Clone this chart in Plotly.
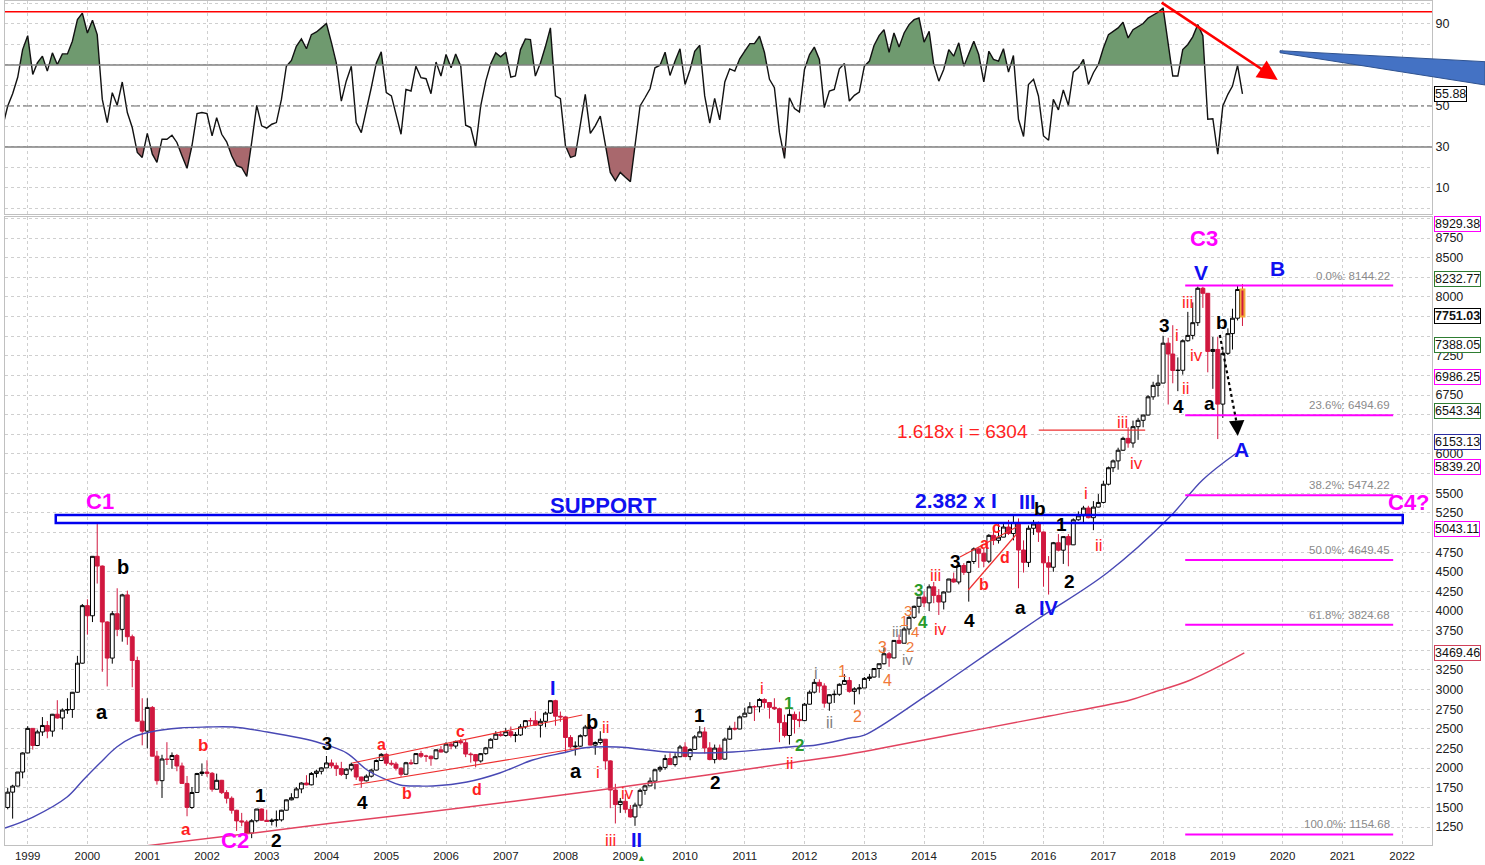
import pandas as pd
import plotly.graph_objects as go

# ---------------- data (NASDAQ Composite, monthly candles Sep 1998 .. May 2019) ----------------
candle_start = "1998-09-01"
opens = [
    1499, 1694, 1771, 1950,
    2193, 2506, 2288, 2461, 2543, 2471, 2686, 2638, 2739, 2746, 2966, 3336,
    4069, 3940, 4697, 4573, 3861, 3401, 3966, 3767, 4206, 3673, 3370, 2598,
    2471, 2773, 2152, 1840, 2116, 2110, 2161, 2027, 1805, 1499, 1690, 1931,
    1950, 1934, 1731, 1845, 1688, 1616, 1463, 1328, 1315, 1172, 1330, 1479,
    1336, 1321, 1338, 1341, 1464, 1596, 1623, 1735, 1810, 1787, 1932, 1960,
    2003, 2066, 2030, 1994, 1920, 1987, 2048, 1887, 1838, 1897, 1975, 2097,
    2175, 2062, 2052, 1999, 1922, 2068, 2057, 2185, 2152, 2152, 2120, 2233,
    2205, 2306, 2281, 2340, 2323, 2179, 2172, 2091, 2184, 2258, 2367, 2432,
    2415, 2464, 2416, 2422, 2525, 2605, 2603, 2546, 2596, 2701, 2859, 2661,
    2652, 2390, 2271, 2279, 2413, 2523, 2293, 2326, 2368, 2092, 1721, 1536,
    1577, 1476, 1378, 1529, 1717, 1774, 1835, 1979, 2009, 2122, 2045, 2145,
    2269, 2147, 2238, 2398, 2461, 2257, 2109, 2255, 2114, 2369, 2507, 2498,
    2653, 2700, 2782, 2781, 2874, 2835, 2774, 2756, 2579, 2415, 2684, 2620,
    2605, 2814, 2967, 3092, 3046, 2827, 2935, 2940, 3067, 3116, 2977, 3010,
    3020, 3142, 3160, 3268, 3329, 3456, 3403, 3626, 3590, 3771, 3920, 4060,
    4177, 4104, 4308, 4199, 4115, 4243, 4408, 4370, 4580, 4493, 4631, 4792,
    4736, 4635, 4964, 4901, 4941, 5070, 4987, 5128, 4777, 4620, 5054, 5109,
    5007, 4614, 4558, 4870, 4775, 4948, 4843, 5162, 5213, 5312, 5189, 5324,
    5383, 5615, 5825, 5912, 6048, 6199, 6140, 6348, 6429, 6496, 6728, 6874,
    6903, 7411, 7273, 7063, 7066, 7442, 7510, 7672, 8110, 8046, 7306, 7331,
    6635, 7282, 7533, 7729, 8095]
highs = [
    1745, 1788, 1950, 2200,
    2534, 2510, 2490, 2650, 2600, 2690, 2865, 2760, 2890, 2970, 3430, 4090,
    4150, 4700, 5132, 4580, 3870, 4000, 4290, 4220, 4260, 3700, 3420, 2890,
    2890, 2790, 2220, 2170, 2330, 2200, 2180, 2070, 1900, 1760, 1940, 2060,
    2100, 1950, 1930, 1850, 1720, 1640, 1470, 1430, 1340, 1350, 1480, 1485,
    1470, 1360, 1460, 1470, 1600, 1680, 1760, 1820, 1910, 1950, 1980, 2010,
    2154, 2110, 2070, 2080, 2000, 2070, 2050, 1890, 1920, 1990, 2110, 2190,
    2190, 2100, 2080, 2010, 2080, 2110, 2190, 2220, 2170, 2160, 2240, 2280,
    2330, 2320, 2350, 2375, 2370, 2200, 2180, 2190, 2270, 2380, 2470, 2470,
    2510, 2530, 2460, 2560, 2610, 2640, 2725, 2630, 2720, 2862, 2870, 2720,
    2660, 2420, 2340, 2430, 2550, 2550, 2340, 2470, 2370, 2100, 1800, 1620,
    1670, 1530, 1560, 1740, 1790, 1880, 1990, 2030, 2170, 2190, 2190, 2295,
    2330, 2250, 2420, 2535, 2520, 2330, 2300, 2300, 2390, 2540, 2590, 2670,
    2770, 2840, 2800, 2890, 2890, 2840, 2890, 2770, 2680, 2750, 2720, 2720,
    2830, 2990, 3135, 3130, 3080, 2940, 2990, 3080, 3197, 3160, 3030, 3070,
    3160, 3200, 3270, 3330, 3530, 3480, 3630, 3700, 3800, 3950, 4070, 4180,
    4250, 4340, 4370, 4280, 4250, 4410, 4490, 4580, 4610, 4640, 4810, 4814,
    4800, 4980, 5040, 5120, 5110, 5160, 5230, 5180, 4900, 5090, 5160, 5140,
    5010, 4700, 4880, 4980, 4950, 4980, 5180, 5270, 5340, 5340, 5400, 5490,
    5660, 5840, 5930, 6080, 6220, 6340, 6425, 6460, 6500, 6750, 6920, 7010,
    7505, 7480, 7640, 7230, 7460, 7810, 7930, 8133, 8130, 8050, 7490, 7490,
    7320, 7600, 7850, 8150, 8165]
lows = [
    1475, 1357, 1770, 1870,
    2190, 2236, 2280, 2410, 2380, 2400, 2630, 2490, 2690, 2640, 2960, 3330,
    3700, 3860, 4350, 3227, 3040, 3330, 3680, 3610, 3570, 3030, 2590, 2290,
    2250, 2150, 1790, 1620, 2040, 1990, 1960, 1800, 1387, 1480, 1690, 1900,
    1890, 1700, 1730, 1670, 1550, 1420, 1200, 1260, 1170, 1108, 1310, 1330,
    1320, 1270, 1253, 1320, 1460, 1590, 1620, 1680, 1780, 1780, 1880, 1920,
    2000, 2000, 1900, 1900, 1860, 1960, 1850, 1750, 1830, 1880, 1970, 2090,
    2030, 2030, 1970, 1890, 1920, 2040, 2050, 2130, 2080, 2030, 2110, 2200,
    2190, 2240, 2250, 2300, 2140, 2070, 2010, 2070, 2170, 2250, 2360, 2400,
    2400, 2390, 2330, 2410, 2500, 2540, 2540, 2390, 2520, 2690, 2540, 2590,
    2200, 2250, 2160, 2270, 2400, 2290, 2170, 2300, 1980, 1490, 1295, 1430,
    1430, 1370, 1265, 1490, 1660, 1770, 1730, 1950, 1980, 2040, 2020, 2140,
    2140, 2100, 2235, 2390, 2185, 2100, 2060, 2100, 2110, 2360, 2480, 2495,
    2650, 2690, 2600, 2710, 2760, 2630, 2740, 2330, 2390, 2300, 2440, 2520,
    2600, 2810, 2950, 2960, 2770, 2730, 2830, 2920, 3060, 2960, 2810, 2940,
    3020, 3110, 3150, 3150, 3320, 3290, 3400, 3580, 3590, 3700, 3900, 3970,
    4050, 4000, 4100, 3950, 4020, 4240, 4360, 4340, 4460, 4120, 4600, 4550,
    4560, 4610, 4840, 4860, 4940, 4970, 4900, 4290, 4490, 4560, 4970, 4880,
    4310, 4210, 4500, 4760, 4600, 4570, 4840, 5150, 5120, 5180, 5030, 5320,
    5370, 5600, 5770, 5800, 6040, 6080, 6080, 6180, 6340, 6490, 6690, 6730,
    6900, 6630, 6900, 6800, 7010, 7430, 7460, 7630, 7860, 7040, 6830, 6190,
    6460, 7260, 7330, 7700, 7630]
closes = [
    1694, 1771, 1950, 2193,
    2506, 2288, 2461, 2543, 2471, 2686, 2638, 2739, 2746, 2966, 3336, 4069,
    3940, 4697, 4573, 3861, 3401, 3966, 3767, 4206, 3673, 3370, 2598, 2471,
    2773, 2152, 1840, 2116, 2110, 2161, 2027, 1805, 1499, 1690, 1931, 1950,
    1934, 1731, 1845, 1688, 1616, 1463, 1328, 1315, 1172, 1330, 1479, 1336,
    1321, 1338, 1341, 1464, 1596, 1623, 1735, 1810, 1787, 1932, 1960, 2003,
    2066, 2030, 1994, 1920, 1987, 2048, 1887, 1838, 1897, 1975, 2097, 2175,
    2062, 2052, 1999, 1922, 2068, 2057, 2185, 2152, 2152, 2120, 2233, 2205,
    2306, 2281, 2340, 2323, 2179, 2172, 2091, 2184, 2258, 2367, 2432, 2415,
    2464, 2416, 2422, 2525, 2605, 2603, 2546, 2596, 2701, 2859, 2661, 2652,
    2390, 2271, 2279, 2413, 2523, 2293, 2326, 2368, 2092, 1721, 1536, 1577,
    1476, 1378, 1529, 1717, 1774, 1835, 1979, 2009, 2122, 2045, 2145, 2269,
    2147, 2238, 2398, 2461, 2257, 2109, 2255, 2114, 2369, 2507, 2498, 2653,
    2700, 2782, 2781, 2874, 2835, 2774, 2756, 2579, 2415, 2684, 2620, 2605,
    2814, 2967, 3092, 3046, 2827, 2935, 2940, 3067, 3116, 2977, 3010, 3020,
    3142, 3160, 3268, 3329, 3456, 3403, 3626, 3590, 3771, 3920, 4060, 4177,
    4104, 4308, 4199, 4115, 4243, 4408, 4370, 4580, 4493, 4631, 4792, 4736,
    4635, 4964, 4901, 4941, 5070, 4987, 5128, 4777, 4620, 5054, 5109, 5007,
    4614, 4558, 4870, 4775, 4948, 4843, 5162, 5213, 5312, 5189, 5324, 5383,
    5615, 5825, 5912, 6048, 6199, 6140, 6348, 6429, 6496, 6728, 6874, 6903,
    7411, 7273, 7063, 7066, 7442, 7510, 7672, 8110, 8046, 7306, 7331, 6635,
    7282, 7533, 7729, 8095, 7751.03]

# oscillator (top panel), monthly from Aug 1998
rsi_start = "1998-08-01"
rsi_vals = [
    40, 50, 56, 64, 77.5, 84.3, 65.4, 71, 74.3, 67, 75.9,
    70.2, 75.4, 75.4, 81.6, 92.1, 95.3, 85.6, 91.8, 84.8, 53.2,
    41.9, 56.5, 50.3, 61.7, 46.8, 39.5, 27.3, 24.9, 36.6, 26.5,
    22.5, 33.8, 33.8, 35.7, 32.2, 25.7, 19.6, 30.6, 46.3, 46.8,
    46.3, 35.4, 44.3, 36.2, 32.5, 25.7, 20.9, 20, 15.7, 32.2,
    50.3, 40.3, 39.2, 41.1, 41.9, 53.2, 69.4, 72.2, 79.1, 82.7,
    77.9, 84.8, 86.1, 88.1, 90.2, 80.8, 71.1, 52.4, 62.1, 69.4,
    41.9, 37, 47.6, 58.9, 71, 76.4, 56.5, 54.9, 46, 36.2,
    58.1, 57.3, 69.4, 63.8, 63.3, 56, 71.4, 64.6, 75.1, 68.6,
    75.4, 69.4, 40.6, 39.5, 29.8, 50, 62.1, 70.6, 75.9, 74,
    76.2, 64.1, 64.6, 77.5, 82.7, 82.4, 64.6, 71, 79.1, 88.1,
    54.9, 53.6, 30.6, 24.9, 25.7, 41.1, 55.7, 36.6, 40.3, 45.1,
    30.6, 17.6, 13.6, 17.6, 15.2, 13.1, 30.6, 50, 54, 58.4,
    68.6, 69.9, 76.2, 64.9, 71.9, 77.9, 60.5, 67.8, 76.7, 79.6,
    54.9, 41.6, 53.7, 43.2, 61.7, 68.1, 67, 73, 76.7, 80.4,
    80.4, 84, 76.2, 63, 58.9, 37, 24.4, 54, 48.7, 47.1,
    67.8, 75.1, 78.7, 72.7, 49.2, 57.3, 58.1, 68.1, 70.7, 52.4,
    55.2, 56.8, 69.4, 71.9, 79.5, 84.3, 87.2, 76.2, 85.6, 78.8,
    85.6, 89.7, 92.1, 92.9, 81.1, 86.4, 70.2, 62.1, 67.8, 77.5,
    74.3, 80.8, 69.4, 75.9, 81.6, 75.1, 61.7, 76.7, 72.7, 71.9,
    77.9, 66.5, 74.6, 43.5, 35.1, 60.5, 63, 54.9, 35.4, 33.3,
    53.2, 48.1, 57.8, 50.3, 66.5, 68.6, 72.7, 60.5, 66.2, 70.2,
    78.3, 84.8, 86.4, 88.1, 90.8, 83.2, 87.2, 88.9, 90.2, 92.9,
    94.5, 95.7, 97.8, 81.6, 64.6, 64.6, 77.5, 80, 83.7, 89.7,
    84.3, 43.5, 43.8, 26.5, 50, 55.7, 59.7, 69.8, 55.88]
rsi_levels = [96, 70, 50, 30]

# moving averages (fractional years)
ma_blue_years = [1998.62, 1999.09, 1999.66, 1999.93, 2000.21, 2000.49, 2000.76, 2001.05, 2001.55,
                 2002.0, 2002.44, 2003.01, 2003.56, 2003.89, 2004.34, 2004.68, 2005.01, 2005.23,
                 2005.56, 2005.78, 2006.35, 2006.90, 2007.45, 2008.02, 2008.29, 2008.86, 2009.70,
                 2010.23, 2010.80, 2011.75, 2012.20, 2012.76, 2013.0, 2014.0, 2014.42, 2015.88,
                 2017.06, 2018.11, 2018.66, 2019.23]
ma_blue_vals = [1237, 1377, 1632, 1849, 2065, 2269, 2396, 2460, 2511,
                2523, 2523, 2460, 2383, 2320, 2192, 1976, 1849, 1785,
                1772, 1772, 1823, 1938, 2103, 2205, 2256, 2269, 2205,
                2192, 2205, 2269, 2294, 2383, 2420, 2905, 3122, 3886,
                4484, 5197, 5669, 6013]
ma_red_years = [2000.70, 2002.77, 2004.11, 2005.56, 2008.58, 2010.37, 2011.75, 2012.76,
                2014.43, 2016.10, 2017.45, 2017.80, 2018.46, 2019.36]
ma_red_vals = [985, 1173, 1301, 1428, 1721, 1912, 2065, 2180,
               2422, 2664, 2867, 2956, 3122, 3466]

# Fibonacci retracement of 1154.68 -> 8144.22
fib_names = ["0.0%", "23.6%", "38.2%", "50.0%", "61.8%", "100.0%"]
fib_values = [8144.22, 6494.69, 5474.22, 4649.45, 3824.68, 1154.68]

support_low, support_high = 5121, 5223
target_value = 6304

# right-axis price flags
flag_values = [8929.38, 8232.77, 7751.03, 7388.05, 6986.25, 6543.34, 6153.13, 5839.20, 5043.11, 3469.46]
flag_colors = ["#ff00ff", "#2e7d32", "#000000", "#2e7d32", "#ff00ff", "#2e7d32", "#2a2aa0",
               "#ff00ff", "#ff00ff", "#d0405a"]

year_ticks = list(range(1999, 2023))
price_ticks = list(range(1250, 9001, 250))

# ---------------- helpers ----------------
def fy(v):
    y = int(v)
    s = pd.Timestamp(year=y, month=1, day=1)
    e = pd.Timestamp(year=y + 1, month=1, day=1)
    return (s + (e - s) * (v - y)).strftime("%Y-%m-%d %H:%M")


def clipped(dates, vals, level, above):
    xs, ys = [], []
    t = [d.value for d in dates]
    for i, v in enumerate(vals):
        if i > 0:
            v0 = vals[i - 1]
            if (v0 - level) * (v - level) < 0:
                f = (level - v0) / (v - v0)
                xs.append(pd.Timestamp(int(t[i - 1] + f * (t[i] - t[i - 1]))))
                ys.append(level)
        xs.append(dates[i])
        ys.append(max(v, level) if above else min(v, level))
    return xs, ys


FONT = "Liberation Sans, Arial, sans-serif"
CANDLE_RED = "#d0183f"
MAG, BLU, BLK = "#ff00ff", "#1010f0", "#000000"
RTX, GRN, ORG, GRY = "#ff1f1f", "#2a9a2a", "#f07838", "#808080"

candle_dates = pd.date_range(candle_start, periods=len(closes), freq="MS")
rsi_dates = pd.date_range(rsi_start, periods=len(rsi_vals), freq="MS")

fig = go.Figure()

# ---- oscillator panel ----
for lvl, above, col in [(70, True, "#6f9a6f"), (30, False, "#a9686d")]:
    xs, ys = clipped(list(rsi_dates), rsi_vals, lvl, above)
    fig.add_trace(go.Scatter(x=[xs[0], xs[-1]], y=[lvl, lvl], mode="lines", line=dict(width=0),
                             xaxis="x", yaxis="y", hoverinfo="skip", showlegend=False))
    fig.add_trace(go.Scatter(x=xs, y=ys, mode="lines", line=dict(width=0), fill="tonexty",
                             fillcolor=col, xaxis="x", yaxis="y", hoverinfo="skip", showlegend=False))
fig.add_trace(go.Scatter(x=rsi_dates, y=rsi_vals, mode="lines", line=dict(color="#111111", width=1.4),
                         xaxis="x", yaxis="y", hoverinfo="skip", showlegend=False))

# ---- price panel ----
fig.add_trace(go.Scatter(x=[fy(v) for v in ma_red_years], y=ma_red_vals, mode="lines",
                         line=dict(color="#e2435f", width=1.4, shape="spline"),
                         xaxis="x2", yaxis="y2", hoverinfo="skip", showlegend=False))
fig.add_trace(go.Scatter(x=[fy(v) for v in ma_blue_years], y=ma_blue_vals, mode="lines",
                         line=dict(color="#4848b4", width=1.4, shape="spline"),
                         xaxis="x2", yaxis="y2", hoverinfo="skip", showlegend=False))
fig.add_trace(go.Candlestick(
    x=candle_dates, open=opens, high=highs, low=lows, close=closes,
    xaxis="x2", yaxis="y2", whiskerwidth=0, hoverinfo="skip", showlegend=False,
    increasing=dict(line=dict(color="#000000", width=1), fillcolor="#ffffff"),
    decreasing=dict(line=dict(color=CANDLE_RED, width=1), fillcolor=CANDLE_RED)))

shapes = []
# oscillator level lines
shapes.append(dict(type="line", xref="paper", yref="y", x0=0, x1=1, y0=rsi_levels[0], y1=rsi_levels[0],
                   line=dict(color="#ff0000", width=1.5)))
for lv in (rsi_levels[1], rsi_levels[3]):
    shapes.append(dict(type="line", xref="paper", yref="y", x0=0, x1=1, y0=lv, y1=lv,
                       line=dict(color="#808080", width=1.5)))
shapes.append(dict(type="line", xref="paper", yref="y", x0=0, x1=1, y0=rsi_levels[2], y1=rsi_levels[2],
                   line=dict(color="#6a6a6a", width=1.2, dash="dashdot")))
# blue wedge callout (top right)
shapes.append(dict(type="path", xref="paper", yref="paper",
                   path="M 0.8935,0.9411 L 1.0371,0.9281 L 1.0371,0.9005 L 0.8935,0.9387 Z",
                   fillcolor="#4472c4", line=dict(color="#2f528f", width=1)))
# support zone
shapes.append(dict(type="rect", xref="x2", yref="y2", x0=fy(1999.47), x1=fy(2022.01),
                   y0=support_low, y1=support_high, line=dict(color="#0000ee", width=2.5)))
# fibonacci lines
for v in fib_values:
    shapes.append(dict(type="line", xref="x2", yref="y2", x0=fy(2018.37), x1=fy(2021.85), y0=v, y1=v,
                       line=dict(color="#ff00ff", width=2)))
# channel / wedge lines
for (xa, ya, xb, yb) in [(2004.43, 2065, 2008.28, 2676), (2004.45, 1785, 2008.24, 2256),
                         (2014.60, 4688, 2015.55, 5070), (2014.74, 4268, 2015.55, 4981)]:
    shapes.append(dict(type="line", xref="x2", yref="y2", x0=fy(xa), x1=fy(xb), y0=ya, y1=yb,
                       line=dict(color="#ee3030", width=1.2)))
# 1.618 x i target line
shapes.append(dict(type="line", xref="x2", yref="y2", x0=fy(2015.92), x1=fy(2017.70),
                   y0=target_value, y1=target_value, line=dict(color="#ee3030", width=1.2)))
# dotted projection arrow shaft
shapes.append(dict(type="line", xref="x2", yref="y2", x0=fy(2018.95), x1=fy(2019.235), y0=7515, y1=6380,
                   line=dict(color="#000000", width=2.2, dash="dot")))
# highlighted last candle
last = candle_dates[-1]
shapes.append(dict(type="rect", xref="x2", yref="y2", x0=last - pd.Timedelta(days=12),
                   x1=last + pd.Timedelta(days=12), y0=closes[-1], y1=opens[-1],
                   fillcolor=CANDLE_RED, line=dict(color="#f2a93b", width=2), layer="above"))

ann = []
labels = [
    ("C1", 2000.21, 5389, MAG, 22, True), ("b", 2000.60, 4561, BLK, 20, True),
    ("a", 2000.24, 2714, BLK, 20, True), ("b", 2001.93, 2294, RTX, 17, True),
    ("a", 2001.65, 1212, RTX, 17, True), ("1", 2002.90, 1657, BLK, 19, True),
    ("2", 2003.17, 1084, BLK, 19, True), ("3", 2004.01, 2307, BLK, 18, True),
    ("4", 2004.60, 1568, BLK, 19, True), ("a", 2004.92, 2307, RTX, 16, True),
    ("b", 2005.35, 1683, RTX, 16, True), ("c", 2006.25, 2472, RTX, 16, True),
    ("d", 2006.52, 1734, RTX, 16, True), ("I", 2007.79, 3020, BLU, 20, True),
    ("b", 2008.45, 2587, BLK, 20, True), ("ii", 2008.67, 2523, RTX, 17, False),
    ("a", 2008.18, 1963, BLK, 20, True), ("i", 2008.54, 1950, RTX, 17, False),
    ("iv", 2009.03, 1683, RTX, 17, False), ("iii", 2008.76, 1084, RTX, 17, False),
    ("II", 2009.18, 1084, BLU, 20, True), ("1", 2010.24, 2676, BLK, 19, True),
    ("2", 2010.51, 1823, BLK, 19, True), ("i", 2011.29, 3020, RTX, 17, False),
    ("1", 2011.74, 2829, GRN, 17, True), ("2", 2011.91, 2294, GRN, 17, True),
    ("ii", 2011.76, 2065, RTX, 17, False), ("i", 2012.19, 3211, GRY, 16, False),
    ("ii", 2012.41, 2587, GRY, 16, False), ("1", 2012.64, 3224, ORG, 16, False),
    ("2", 2012.88, 2651, ORG, 16, False), ("3", 2013.31, 3542, ORG, 16, False),
    ("4", 2013.39, 3110, ORG, 16, False), ("iii", 2013.54, 3745, GRY, 15, False),
    ("iv", 2013.73, 3380, GRY, 15, False), ("2", 2013.76, 3545, ORG, 15, False),
    ("1", 2013.66, 3880, ORG, 15, False), ("4", 2013.85, 3745, ORG, 15, False),
    ("3", 2013.73, 4010, ORG, 15, False), ("3", 2013.91, 4268, GRN, 17, True),
    ("4", 2013.99, 3848, GRN, 17, True), ("iii", 2014.19, 4459, RTX, 17, False),
    ("iv", 2014.28, 3771, RTX, 17, False), ("3", 2014.53, 4625, BLK, 19, True),
    ("4", 2014.76, 3886, BLK, 19, True), ("b", 2015.01, 4332, RTX, 16, True),
    ("d", 2015.35, 4688, RTX, 16, True), ("a", 2015.01, 4866, RTX, 16, True),
    ("c", 2015.21, 5070, RTX, 16, True), ("2.382 x I", 2014.54, 5414, BLU, 21, True),
    ("III", 2015.73, 5389, BLU, 20, True), ("b", 2015.94, 5312, BLK, 19, True),
    ("1", 2016.30, 5096, BLK, 19, True), ("a", 2015.62, 4051, BLK, 19, True),
    ("IV", 2016.09, 4039, BLU, 20, True), ("2", 2016.44, 4370, BLK, 19, True),
    ("i", 2016.71, 5503, RTX, 17, False), ("ii", 2016.93, 4841, RTX, 17, False),
    ("iii", 2017.32, 6407, RTX, 17, False), ("iv", 2017.55, 5885, RTX, 17, False),
    ("1.618x i = 6304", 2014.65, 6280, RTX, 19, False), ("A", 2019.32, 6051, BLU, 21, True),
    ("C3", 2018.69, 8750, MAG, 22, True), ("V", 2018.64, 8317, BLU, 21, True),
    ("B", 2019.91, 8356, BLU, 21, True), ("iii", 2018.40, 7935, RTX, 17, False),
    ("3", 2018.03, 7642, BLK, 19, True), ("i", 2018.23, 7515, RTX, 17, False),
    ("iv", 2018.56, 7260, RTX, 17, False), ("b", 2018.98, 7668, BLK, 19, True),
    ("ii", 2018.38, 6830, RTX, 17, False), ("4", 2018.26, 6610, BLK, 19, True),
    ("a", 2018.78, 6649, BLK, 19, True), ("SUPPORT", 2008.63, 5350, BLU, 22, True),
    ("C4?", 2022.12, 5376, MAG, 22, True),
]
for t, xv, yv, c, s, b in labels:
    ann.append(dict(x=fy(xv), y=yv, xref="x2", yref="y2", text=f"<b>{t}</b>" if b else t,
                    showarrow=False, font=dict(family=FONT, size=s, color=c)))
# labels below the price axis
ann.append(dict(x=fy(2002.47), y=-0.0118, xref="x2", yref="paper", text="<b>C2</b>", showarrow=False,
                font=dict(family=FONT, size=22, color=MAG)))
ann.append(dict(x=fy(2009.27), y=-0.024, xref="x2", yref="paper", text="▲", showarrow=False,
                font=dict(family=FONT, size=9, color="#1fa01f")))
# fib labels
for n, v in zip(fib_names, fib_values):
    ann.append(dict(x=fy(2021.83), y=v, xref="x2", yref="y2", text=f"{n}: {v:.2f}", showarrow=False,
                    xanchor="right", yanchor="bottom", yshift=2,
                    font=dict(family=FONT, size=11.5, color="#8a8a8a")))
# dotted arrow head
ann.append(dict(x=fy(2019.25), y=6229, ax=fy(2019.235), ay=6390, xref="x2", yref="y2", axref="x2",
                ayref="y2", text="", showarrow=True, arrowhead=2, arrowsize=1.4, arrowwidth=2.2,
                arrowcolor="#000000"))
# red divergence arrow in oscillator
ann.append(dict(x=fy(2019.92), y=62.7, ax=fy(2017.95), ay=100.9, xref="x", yref="y", axref="x",
                ayref="y", text="", showarrow=True, arrowhead=2, arrowsize=1.6, arrowwidth=2.5,
                arrowcolor="#ff0000"))
# right-axis flags
for v, c in zip(flag_values, flag_colors):
    txt = f"<b>{v:.2f}</b>" if c == "#000000" else f"{v:.2f}"
    ann.append(dict(x=1, y=v, xref="paper", yref="y2", text=txt, showarrow=False, xanchor="left",
                    xshift=2, bgcolor="#ffffff", bordercolor=c, borderwidth=1, borderpad=0,
                    font=dict(family=FONT, size=12.5, color="#111111")))
ann.append(dict(x=1, y=rsi_vals[-1], xref="paper", yref="y", text=f"{rsi_vals[-1]:.2f}", showarrow=False,
                xanchor="left", xshift=2, bgcolor="#ffffff", bordercolor="#000000", borderwidth=1,
                borderpad=0, font=dict(family=FONT, size=12.5, color="#111111")))

# price tick labels that sit under a flag are hidden (the flag covers them)
price_text = [("" if any(abs(p - f) < 125 for f in flag_values) else str(p)) for p in price_ticks]

grid = dict(showgrid=True, gridcolor="#cfcfcf", griddash="dot", gridwidth=1, zeroline=False,
            showline=True, linecolor="#c0c0c0", linewidth=1, mirror=True)
xr = [fy(1998.62), fy(2022.5)]
rsi_ticks = list(range(0, 101, 10))

fig.update_layout(
    width=1485, height=865,
    margin=dict(l=5, r=53, t=1, b=20, autoexpand=False),
    paper_bgcolor="#ffffff", plot_bgcolor="#ffffff",
    font=dict(family=FONT, size=11, color="#303030"),
    boxgap=0.15, boxgroupgap=0,
    showlegend=False,
    xaxis=dict(domain=[0, 1], anchor="y", range=xr, type="date", showticklabels=False,
               tickvals=[f"{y}-01-01" for y in year_ticks], ticks="", **grid),
    xaxis2=dict(domain=[0, 1], anchor="y2", range=xr, type="date", matches="x",
                tickvals=[f"{y}-01-01" for y in year_ticks], ticktext=[str(y) for y in year_ticks],
                ticks="", tickfont=dict(size=11.5, color="#202020"),
                rangeslider=dict(visible=False), **grid),
    yaxis=dict(domain=[0.7476, 1], anchor="x", range=[-2.7, 101.2], side="right",
               tickvals=rsi_ticks, ticktext=[str(v) if v in (10, 30, 50, 90) else "" for v in rsi_ticks],
               ticks="", tickfont=dict(size=12.5, color="#202020"), **grid),
    yaxis2=dict(domain=[0, 0.7441], anchor="x2", range=[1021, 9018], side="right",
                tickvals=price_ticks, ticktext=price_text, ticks="",
                tickfont=dict(size=12.5, color="#202020"), **grid),
    shapes=shapes,
    annotations=ann,
)

fig.write_html("out.html", config={"displayModeBar": False},
               post_script="document.body.style.margin='0px';")
